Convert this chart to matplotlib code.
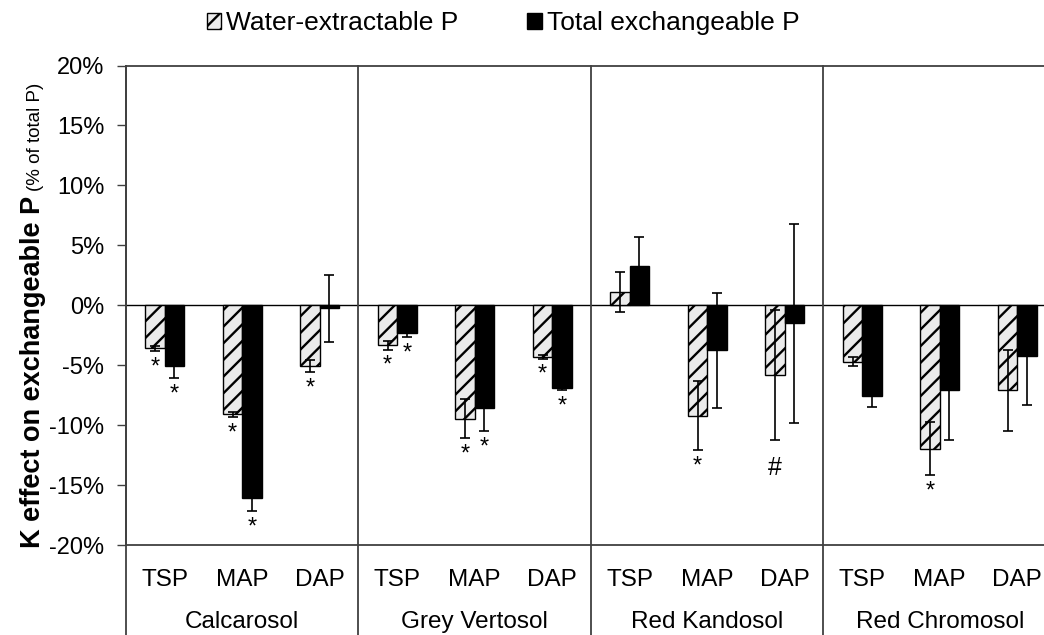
import matplotlib
matplotlib.use('Agg')
import matplotlib.pyplot as plt
import matplotlib.transforms as mtransforms
from matplotlib.patches import Patch
import numpy as np

plt.rcParams.update({
    'font.family': 'Liberation Sans',
    'font.size': 17,
    'hatch.linewidth': 1.7,
    'hatch.color': 'black',
})

# ── DATA (% of total P) ──────────────────────────────────────────────────────
soils       = ["Calcarosol", "Grey Vertosol", "Red Kandosol", "Red Chromosol"]
fertilisers = ["TSP", "MAP", "DAP"]

water_val = [-3.6, -9.1, -5.1,   -3.35, -9.45, -4.3,   1.1, -9.2, -5.8,   -4.7, -11.95, -7.1]
water_err = [0.2, 0.2, 0.5,      0.35, 1.6, 0.15,      1.7, 2.9, 5.4,     0.4, 2.2, 3.4]
water_sig = ["*", "*", "*",      "*", "*", "*",        "", "*", "#",      "", "*", ""]

total_val = [-5.1, -16.1, -0.25, -2.35, -8.6, -6.9,    3.3, -3.75, -1.5,  -7.6, -7.05, -4.2]
total_err = [0.95, 1.1, 2.8,     0.3, 1.9, 0.2,        2.4, 4.8, 8.3,     0.9, 4.2, 4.1]
total_sig = ["*", "*", "",       "*", "*", "*",        "", "", "",        "", "", ""]

yticks = [-20, -15, -10, -5, 0, 5, 10, 15, 20]

# ── LAYOUT ───────────────────────────────────────────────────────────────────
W, H = 1044, 635
fig = plt.figure(figsize=(W / 100, H / 100), dpi=100)
ax = fig.add_axes([126 / W, 90 / H, 930 / W, 479.5 / H])

n = len(water_val)
x = np.arange(n) + 0.5
bw = 0.25
LINE = "#404040"

ax.bar(x - bw / 2, water_val, bw, color="#ebebeb", edgecolor="black",
       hatch="//", linewidth=1.0, zorder=2)
ax.bar(x + bw / 2, total_val, bw, color="black", edgecolor="black",
       linewidth=1.0, zorder=2)
ax.errorbar(x - bw / 2, water_val, yerr=water_err, fmt="none", ecolor="black",
            elinewidth=1.2, capsize=3.6, capthick=1.2, zorder=3)
ax.errorbar(x + bw / 2, total_val, yerr=total_err, fmt="none", ecolor="black",
            elinewidth=1.2, capsize=3.6, capthick=1.2, zorder=3)

# significance marks below each error bar
for xs, vals, errs, sigs in [(x - bw / 2, water_val, water_err, water_sig),
                             (x + bw / 2, total_val, total_err, total_sig)]:
    for xi, v, e, s in zip(xs, vals, errs, sigs):
        if not s:
            continue
        if s == "#":
            ax.text(xi, v - e - 1.4, s, ha="center", va="top", fontsize=18, zorder=4)
        else:
            ax.text(xi, v - e - 0.45, s, ha="center", va="top", fontsize=17, zorder=4)

ax.axhline(0, color="black", lw=1.0, zorder=1)

ax.set_xlim(0, n)
ax.set_ylim(-20, 20)
ax.set_yticks(yticks)
ax.set_yticklabels([f"{t}%" for t in yticks])
ax.tick_params(axis="y", direction="out", length=6.5, width=1.0, color=LINE, pad=9)
ax.set_xticks([])
for side in ["left", "top", "bottom"]:
    ax.spines[side].set_color(LINE)
    ax.spines[side].set_linewidth(1.3)
ax.spines["right"].set_visible(False)

# multi-level category axis
trans = mtransforms.blended_transform_factory(ax.transData, ax.transAxes)
for g in range(len(soils) + 1):
    ax.plot([g * 3, g * 3], [1, -0.25], color=LINE, lw=1.3, transform=trans,
            clip_on=False, zorder=1)
for i in range(n):
    ax.text(x[i], -0.072, fertilisers[i % 3], transform=trans, ha="center",
            va="center", fontsize=17.5)
for g, soil in enumerate(soils):
    ax.text(g * 3 + 1.5, -0.16, soil, transform=trans, ha="center",
            va="center", fontsize=17.5)

# y label: bold part + smaller normal part
fig.text(40 / W, (H - 548) / H, "K effect on exchangeable P", rotation=90,
         rotation_mode="anchor", ha="left", va="baseline", fontsize=19.5,
         fontweight="bold")
fig.text(40 / W, (H - 191) / H, "(% of total P)", rotation=90,
         rotation_mode="anchor", ha="left", va="baseline", fontsize=13.5)

# legend
handles = [Patch(facecolor="#ebebeb", edgecolor="black", hatch="//", lw=1.0),
           Patch(facecolor="black", edgecolor="black", lw=1.0)]
fig.legend(handles, ["Water-extractable P", "Total exchangeable P"],
           loc="center", bbox_to_anchor=(0.482, 0.963), ncol=2, frameon=False,
           handlelength=0.55, handleheight=0.55, handletextpad=0.2,
           columnspacing=2.6, fontsize=19)

fig.savefig("out.png", dpi=100)
